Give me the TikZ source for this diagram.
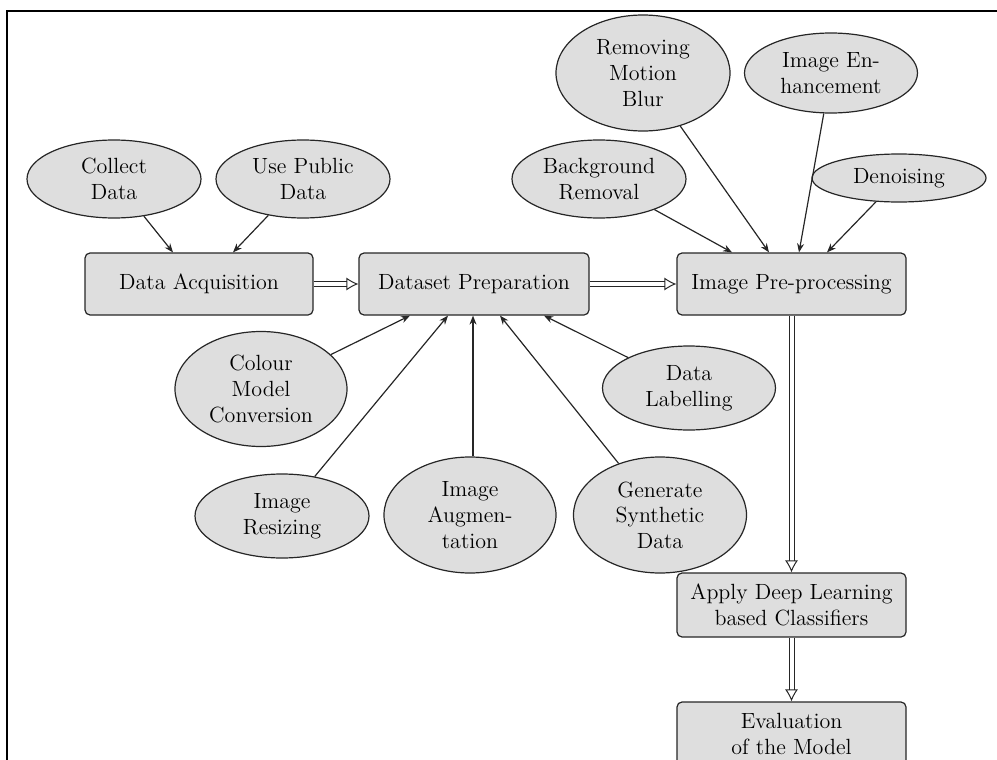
\documentclass[tikz,border=0pt]{standalone}
\usetikzlibrary{shapes.geometric,arrows.meta,calc}
\begin{document}
\begin{tikzpicture}[x=0.5pt,y=-0.5pt,
  font=\fontsize{11}{12.8}\selectfont,
  ell/.style={ellipse,draw=black!85,line width=0.6pt,fill=black!13,inner sep=0pt,align=center},
  stepbox/.style={rectangle,rounded corners=2.5pt,draw=black!85,line width=0.6pt,fill=black!13,inner sep=0pt,align=center,minimum width=114.5pt},
  thin arrow/.style={draw=black!85,line width=0.6pt,-{Stealth[length=4.5pt,width=3.5pt]}},
  dbl arrow/.style={draw=black!85,line width=0.5pt,double,double distance=2pt,-{Latex[open,length=6pt,width=6.5pt]}}]
\useasboundingbox (0,0) rectangle (997,760);
\draw[line width=1pt] (7,760) -- (7,11) -- (997,11);

% main boxes
\node[stepbox,minimum width=114pt,minimum height=31pt] (da) at (199,284) {Data Acquisition};
\node[stepbox,minimum width=115pt,minimum height=31pt] (dp) at (474,284) {Dataset Preparation};
\node[stepbox,minimum height=31pt] (ip) at (791.5,284) {Image Pre-processing};
\node[stepbox,minimum height=32pt] (dl) at (791.5,605) {Apply Deep Learning\\based Classifiers};
\node[stepbox,minimum height=32pt] (ev) at (791.5,734) {Evaluation\\of the Model};

% top-left ellipses
\node[ell,minimum width=87pt,minimum height=39pt] (cd) at (114,179) {Collect\\Data};
\node[ell,minimum width=87pt,minimum height=39pt] (pd) at (303,179) {Use Public\\Data};

% top-right ellipses
\node[ell,minimum width=87pt,minimum height=58pt] (mb) at (643,73) {Removing\\Motion\\Blur};
\node[ell,minimum width=86.5pt,minimum height=40pt] (ie) at (831,73) {Image En-\\hancement};
\node[ell,minimum width=87pt,minimum height=39pt] (br) at (599,179) {Background\\Removal};
\node[ell,minimum width=87pt,minimum height=24pt] (dn) at (899,178) {Denoising};

% lower ellipses
\node[ell,minimum width=86pt,minimum height=57.5pt] (cm) at (261,389) {Colour\\Model\\Conversion};
\node[ell,minimum width=87pt,minimum height=42pt] (ir) at (282,516) {Image\\Resizing};
\node[ell,minimum width=86pt,minimum height=58pt] (ia) at (470,515) {Image\\Augmen-\\tation};
\node[ell,minimum width=86.5pt,minimum height=58pt] (gs) at (660,515) {Generate\\Synthetic\\Data};
\node[ell,minimum width=86.5pt,minimum height=42pt] (lb) at (689,388) {Data\\Labelling};

% target coordinates
\coordinate (daA) at ($(da.north)+(-26,0)$);
\coordinate (daB) at ($(da.north)+(34,0)$);
\coordinate (ipA) at ($(ip.north)+(-59.5,0)$);
\coordinate (ipB) at ($(ip.north)+(-22.5,0)$);
\coordinate (ipC) at ($(ip.north)+(7.5,0)$);
\coordinate (ipD) at ($(ip.north)+(35.5,0)$);
\coordinate (dpA) at ($(dp.south)+(-64,0)$);
\coordinate (dpB) at ($(dp.south)+(-26,0)$);
\coordinate (dpC) at ($(dp.south)+(-1,0)$);
\coordinate (dpD) at ($(dp.south)+(26,0)$);
\coordinate (dpE) at ($(dp.south)+(70,0)$);

\draw[thin arrow] (cd) -- (daA);
\draw[thin arrow] (pd) -- (daB);
\draw[thin arrow] (br) -- (ipA);
\draw[thin arrow] (mb) -- (ipB);
\draw[thin arrow] (ie) -- (ipC);
\draw[thin arrow] (dn) -- (ipD);
\draw[thin arrow] (cm) -- (dpA);
\draw[thin arrow] (ir) -- (dpB);
\draw[thin arrow] (ia.north -| dpC) -- (dpC);
\draw[thin arrow] (gs) -- (dpD);
\draw[thin arrow] (lb) -- (dpE);

\draw[dbl arrow] (da) -- (dp);
\draw[dbl arrow] (dp) -- (ip);
\draw[dbl arrow] (ip) -- (dl);
\draw[dbl arrow] (dl) -- (ev);
\end{tikzpicture}
\end{document}
